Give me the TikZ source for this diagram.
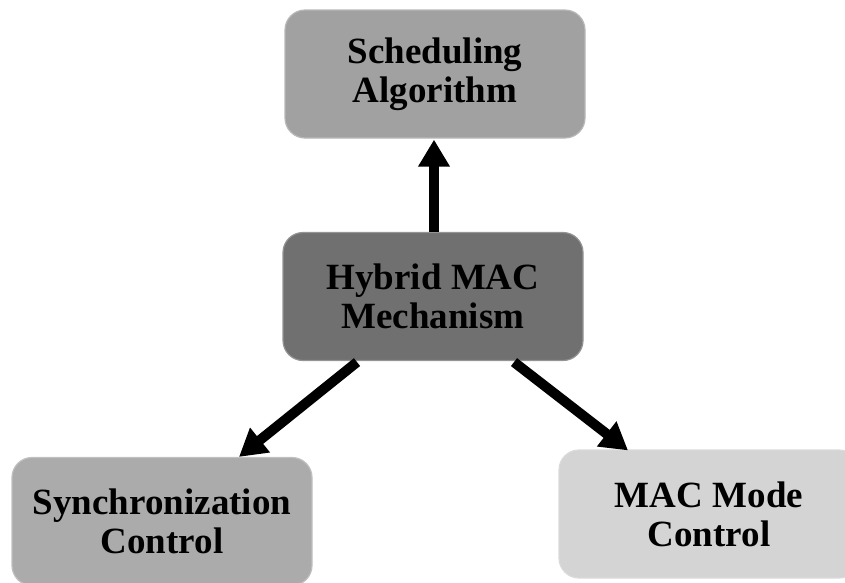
\documentclass[tikz,border=0pt]{standalone}
\usepackage{fontspec}
\setmainfont{Liberation Serif}
\usetikzlibrary{arrows.meta,calc}
\definecolor{schedgray}{RGB}{161,161,161}
\definecolor{hybgray}{RGB}{112,112,112}
\definecolor{syncgray}{RGB}{171,171,171}
\definecolor{modegray}{RGB}{212,212,212}
\tikzset{
  block/.style={rectangle, rounded corners=20pt, minimum width=300pt,
    minimum height=128pt, inner sep=0pt, align=center, line width=1.2pt,
    font=\fontsize{37}{39}\selectfont\bfseries},
  link/.style={line width=10pt, -{Triangle[length=27pt,width=30pt]}},
}
\begin{document}
\begin{tikzpicture}[x=1pt,y=-1pt]
  \useasboundingbox (0,0) rectangle (845,582);
  % the four blocks
  \node[block, fill=schedgray, draw=schedgray!75!white] (sched) at (435,74) {Scheduling\\Algorithm};
  \node[block, fill=hybgray, draw=hybgray!75!white] (hyb) at (433,296.5) {Hybrid MAC\\Mechanism};
  \node[block, fill=syncgray, draw=syncgray!75!white] (sync) at (162,521.5) {Synchronization\\Control};
  \node[block, fill=modegray, draw=modegray!85!white] (mode) at (709,514) {MAC Mode\\Control};
  % connectors from the central block
  \draw[link] ($(hyb.north)+(1,0)$) -- ($(sched.south)+(-1,1)$);
  \draw[link] ($(hyb.south)+(-76,1)$) -- ($(sync.north)+(77,0)$);
  \draw[link] ($(hyb.south)+(81,1)$) -- ($(mode.north)+(-81,1)$);
\end{tikzpicture}
\end{document}
